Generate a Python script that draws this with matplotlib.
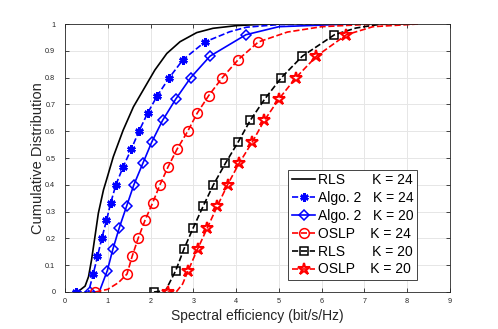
import matplotlib
matplotlib.use("Agg")
import matplotlib.pyplot as plt

plt.rcParams["font.family"] = ["Liberation Sans", "DejaVu Sans"]

# curves (x = spectral efficiency, y = CDF)
rls24_x = [0.27, 0.35, 0.47, 0.55, 0.62, 0.70, 0.78, 0.90, 0.97, 1.13, 1.36, 1.60,
           1.83, 2.10, 2.38, 2.69, 3.08, 3.46, 4.01, 4.6, 5.2]
rls24_y = [0, 0.007, 0.022, 0.057, 0.119, 0.206, 0.294, 0.381, 0.418, 0.505, 0.604,
           0.691, 0.754, 0.828, 0.89, 0.934, 0.968, 0.984, 0.994, 0.999, 1.0]

alg24_x = [0.25, 0.55, 0.66, 0.76, 0.86, 0.97, 1.07, 1.19, 1.36, 1.55, 1.73, 1.93,
           2.16, 2.44, 2.76, 3.27, 3.85, 4.24, 5.0, 6.7]
alg24_y = [0, 0.0, 0.067, 0.133, 0.2, 0.267, 0.333, 0.4, 0.467, 0.533, 0.6, 0.667,
           0.733, 0.8, 0.867, 0.933, 0.971, 0.988, 0.998, 1.0]
alg24_mk = list(range(0, 16))
alg24_mk.remove(1)

alg20_x = [0.58, 0.80, 0.99, 1.12, 1.27, 1.44, 1.61, 1.82, 2.03, 2.28, 2.59, 2.94,
           3.39, 4.23, 5.0, 6.7]
alg20_y = [0, 0.0, 0.08, 0.16, 0.24, 0.32, 0.40, 0.48, 0.56, 0.64, 0.72, 0.80,
           0.88, 0.96, 0.99, 1.0]
alg20_mk = [0] + list(range(2, 14))

oslp24_x = [0.71, 1.0, 1.25, 1.45, 1.57, 1.71, 1.87, 2.05, 2.22, 2.41, 2.62, 2.87,
            3.09, 3.36, 3.68, 4.05, 4.52, 5.2, 6.0, 7.0, 8.25]
oslp24_y = [0, 0.01, 0.035, 0.067, 0.133, 0.2, 0.267, 0.333, 0.4, 0.467, 0.533, 0.6,
            0.667, 0.733, 0.8, 0.867, 0.933, 0.97, 0.99, 0.998, 1.0]
oslp24_mk = [0] + list(range(3, 17))

rls20_x = [2.08, 2.35, 2.59, 2.78, 3.00, 3.23, 3.47, 3.75, 4.05, 4.33, 4.67, 5.06,
           5.55, 6.30, 6.8, 7.4]
rls20_y = [0, 0.005, 0.08, 0.16, 0.24, 0.32, 0.40, 0.48, 0.56, 0.64, 0.72, 0.80,
           0.88, 0.96, 0.985, 1.0]
rls20_mk = [0] + list(range(2, 14))

oslp20_x = [2.40, 2.60, 2.75, 2.88, 3.10, 3.33, 3.56, 3.80, 4.07, 4.38, 4.66, 5.0,
            5.40, 5.88, 6.58, 7.2, 8.25]
oslp20_y = [0, 0.0, 0.03, 0.08, 0.16, 0.24, 0.32, 0.40, 0.48, 0.56, 0.64, 0.72,
            0.80, 0.88, 0.96, 0.99, 1.0]
oslp20_mk = [0] + list(range(3, 15))

fig = plt.figure(figsize=(4.98, 3.29), dpi=100)
ax = fig.add_axes([0.1305, 0.1125, 0.773, 0.8145])

lw = 1.2
ax.plot(rls24_x, rls24_y, "-", color="k", lw=lw, label="RLS       K = 24")
ax.plot(alg24_x, alg24_y, "--", color="b", lw=lw, marker=(6, 2, 0), ms=6, mew=1.8,
        markevery=alg24_mk, label="Algo. 2   K = 24")
ax.plot(alg20_x, alg20_y, "-", color="b", lw=lw, marker="D", ms=5.5, mfc="none",
        mew=1.1, markevery=alg20_mk, label="Algo. 2   K = 20")
ax.plot(oslp24_x, oslp24_y, "--", color="r", lw=lw, marker="o", ms=7, mfc="none",
        mew=1.1, markevery=oslp24_mk, label="OSLP    K = 24")
ax.plot(rls20_x, rls20_y, "--", color="k", lw=lw, marker="s", ms=6, mfc="none",
        mew=1.1, markevery=rls20_mk, label="RLS       K = 20")
ax.plot(oslp20_x, oslp20_y, "--", color="r", lw=lw, marker="*", ms=9, mfc="none",
        mew=1.5, markevery=oslp20_mk, label="OSLP    K = 20")

ax.set_xlim(0, 9)
ax.set_ylim(0, 1)
ax.set_xticks(range(0, 10))
ax.set_yticks([i / 10 for i in range(11)])
ax.set_yticklabels(["0"] + ["%.1f" % (i / 10) for i in range(1, 10)] + ["1"])
ax.tick_params(direction="in", top=True, right=True, labelsize=5.2, colors="#262626",
               length=3, width=0.6)
ax.tick_params(axis="x", pad=4.5)
ax.tick_params(axis="y", pad=7)
ax.grid(True, color="#e6e6e6", lw=0.7)
ax.set_axisbelow(True)
for s in ax.spines.values():
    s.set_color("#262626")
    s.set_linewidth(0.6)

ax.set_xlabel("Spectral efficiency (bit/s/Hz)", fontsize=10, color="#262626")
ax.set_ylabel("Cumulative Distribution", fontsize=10.5, color="#262626")
ax.yaxis.set_label_coords(-0.053, 0.5)
ax.xaxis.set_label_coords(0.5, -0.065)

leg = ax.legend(loc="lower right", bbox_to_anchor=(0.915, 0.045), fontsize=10,
                handlelength=1.7, handletextpad=0.2, borderpad=0.25,
                labelspacing=0.28, fancybox=False, framealpha=1, borderaxespad=0)
leg.get_frame().set_edgecolor("#262626")
leg.get_frame().set_linewidth(0.6)

plt.savefig("out.png", dpi=100)
